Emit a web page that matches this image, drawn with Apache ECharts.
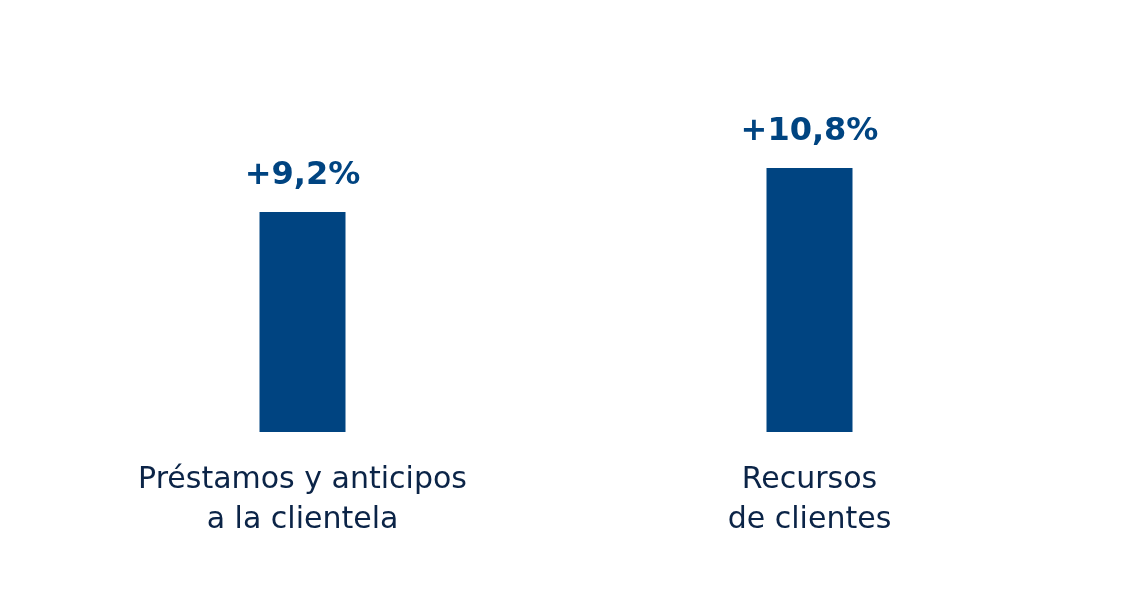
<!DOCTYPE html>
<html><head><meta charset="utf-8">
<script src="https://cdn.jsdelivr.net/npm/echarts@6/dist/echarts.min.js"></script>
<style>html,body{margin:0;padding:0;background:#fff}#c{width:1147px;height:594px}</style>
</head><body><div id="c"></div>
<script>
const categories = ['Préstamos y anticipos\na la clientela', 'Recursos\nde clientes'];
const values = [9.2, 10.8];
const valueLabels = ['+9,2%', '+10,8%'];

const chart = echarts.init(document.getElementById('c'), null, {renderer: 'canvas'});
chart.setOption({
  animation: false,
  grid: {left: 49, right: 84, top: 60, bottom: 162},
  xAxis: {
    type: 'category', data: categories,
    axisLine: {show: false}, axisTick: {show: false},
    axisLabel: {margin: 28, fontSize: 30, lineHeight: 40, color: '#0b2447', fontFamily: 'DejaVu Sans', interval: 0}
  },
  yAxis: {type: 'value', min: 1.2, max: 14.73, show: false, splitLine: {show: false}},
  series: [{
    type: 'bar', data: values, barWidth: 86,
    itemStyle: {color: '#004481'},
    label: {
      show: true, position: 'top', distance: 20,
      formatter: p => valueLabels[p.dataIndex],
      fontSize: 32, fontWeight: 'bold', color: '#004481', fontFamily: 'DejaVu Sans'
    }
  }]
});
</script></body></html>
